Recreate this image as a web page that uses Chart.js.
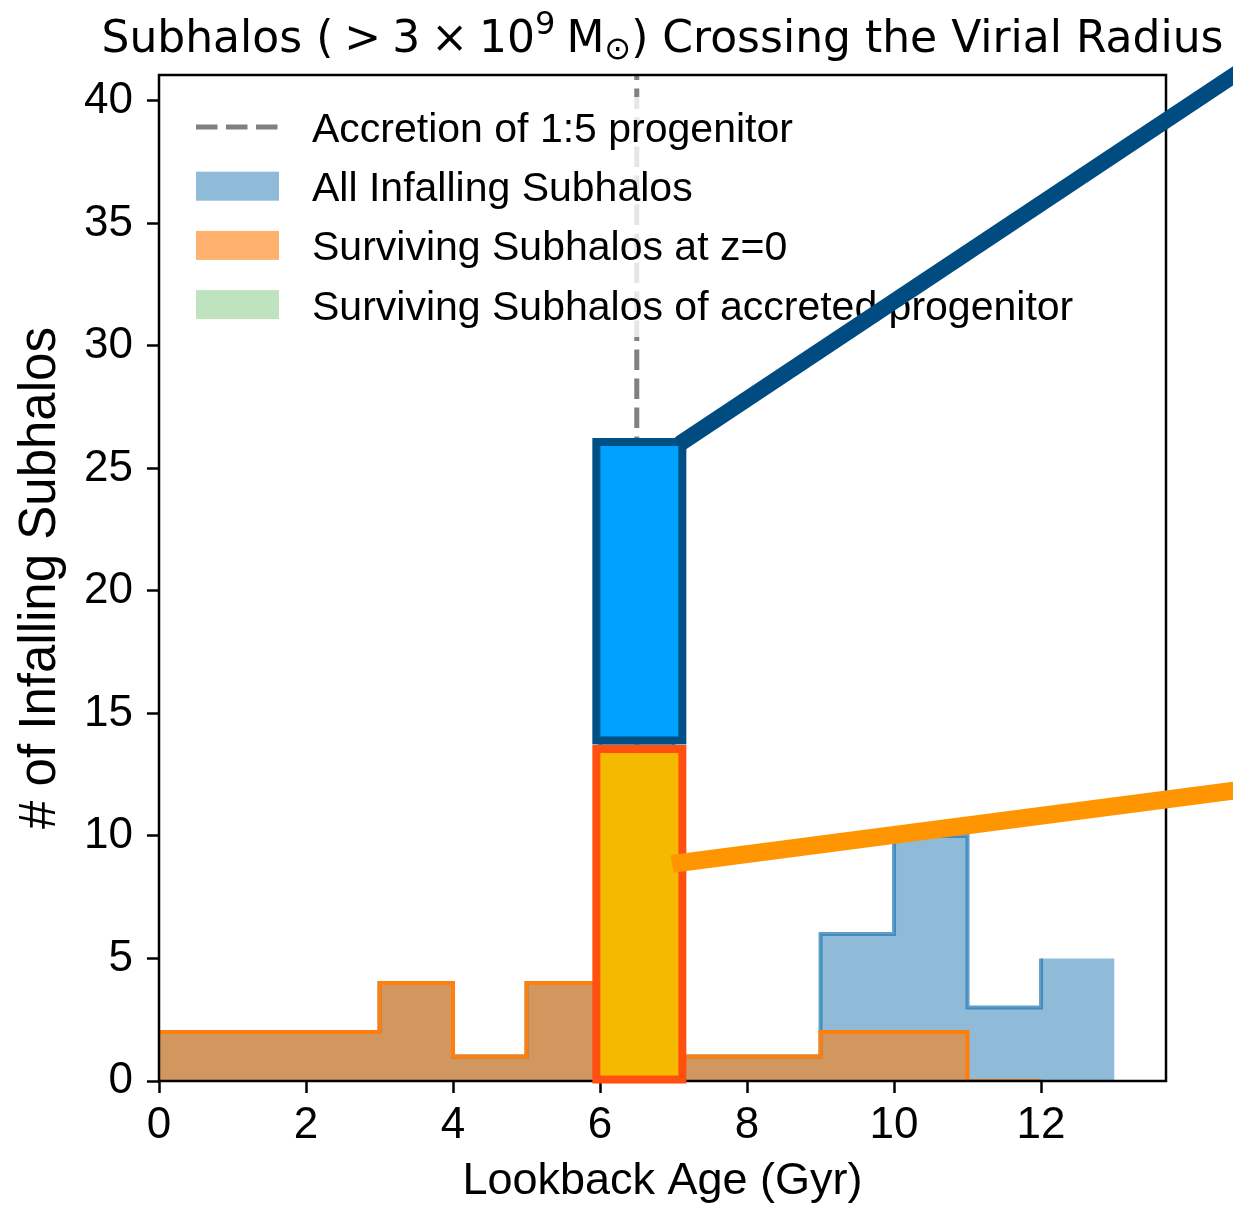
<!DOCTYPE html>
<html>
<head>
<meta charset="utf-8">
<script src="https://cdn.jsdelivr.net/npm/chart.js@4.4.0/dist/chart.umd.min.js"></script>
<style>
  html, body { margin: 0; padding: 0; background: #fff; }
  canvas { display: block; }
</style>
</head>
<body>
<canvas id="histChart" width="1233" height="1205"></canvas>
<script>
// 1 Gyr bins of lookback age, counts
const binEdges = [0, 1, 2, 3, 4, 5, 6, 7, 8, 9, 10, 11, 12, 13];
const allInfalling = [2, 2, 2, 4, 1, 4, 26, 1, 1, 6, 10, 3, 5];
const survivingZ0 = [2, 2, 2, 4, 1, 4, 13, 1, 1, 2, 2, 0, 0];
const survivingAccreted = [0, 0, 0, 0, 0, 0, 9, 0, 0, 0, 0, 0, 0];
const accretionAge = 6.5;

const xTickValues = [0, 2, 4, 6, 8, 10, 12];
const yTickValues = [0, 5, 10, 15, 20, 25, 30, 35, 40];
const xMax = 13.7;
const yMax = 41.06;

// highlight boxes and connector lines drawn over the 6-7 Gyr bin (data units)
const highlightX = [5.95, 7.12];
const highlightAllY = [13.9, 26.08];
const highlightSurvY = [0.06, 13.55];
const allConnector = [[7.08, 26.0], [14.9, 41.6]];
const survConnector = [[6.98, 8.86], [14.8, 11.92]];

const FONT = '"Liberation Sans", Arial, Helvetica, sans-serif';
const TITLE_FONT = '"DejaVu Sans", sans-serif';
const GAP = '\u2005';

function stepPoints(counts, closeLast) {
  const pts = counts.map((c, i) => ({ x: binEdges[i], y: c }));
  if (closeLast) pts.push({ x: binEdges[counts.length], y: counts[counts.length - 1] });
  return pts;
}

const spinePlugin = {
  id: 'spines',
  afterDatasetsDraw(chart) {
    const { ctx, chartArea: a } = chart;
    ctx.save();
    ctx.strokeStyle = '#000';
    ctx.lineWidth = 2.5;
    ctx.strokeRect(a.left, a.top, a.right - a.left, a.bottom - a.top);
    ctx.restore();
  }
};

const legendPlugin = {
  id: 'innerLegend',
  afterDatasetsDraw(chart) {
    const { ctx, chartArea: a } = chart;
    const ds = chart.data.datasets;
    const items = [
      { kind: 'dash', d: ds[6] },
      { kind: 'patch', d: ds[0] },
      { kind: 'patch', d: ds[1] },
      { kind: 'patch', d: ds[2] }
    ];
    const x0 = a.left + 37;
    const rowY = a.top + 52;
    const rowGap = 59.2;
    ctx.save();
    // translucent frame
    ctx.fillStyle = 'rgba(255,255,255,0.8)';
    ctx.beginPath();
    ctx.roundRect(a.left + 21, a.top + 22, 910, 240, 6);
    ctx.fill();
    ctx.font = '41px ' + FONT;
    ctx.textBaseline = 'alphabetic';
    ctx.textAlign = 'left';
    items.forEach((it, i) => {
      const cy = rowY + i * rowGap;
      if (it.kind === 'dash') {
        ctx.strokeStyle = it.d.borderColor;
        ctx.lineWidth = it.d.borderWidth;
        ctx.setLineDash([21.5, 8.5]);
        ctx.beginPath();
        ctx.moveTo(x0, cy);
        ctx.lineTo(x0 + 83, cy);
        ctx.stroke();
        ctx.setLineDash([]);
      } else {
        ctx.fillStyle = it.d.backgroundColor;
        ctx.fillRect(x0, cy - 14.5, 83, 29);
      }
      ctx.fillStyle = '#000';
      ctx.fillText(it.d.label, x0 + 116, cy + 15);
    });
    ctx.restore();
  }
};

const highlightPlugin = {
  id: 'highlight',
  afterDraw(chart) {
    const { ctx, scales: { x, y } } = chart;
    ctx.save();
    const box = (yr, fill, stroke) => {
      const l = x.getPixelForValue(highlightX[0]);
      const r = x.getPixelForValue(highlightX[1]);
      const t = y.getPixelForValue(yr[1]);
      const b = y.getPixelForValue(yr[0]);
      ctx.fillStyle = fill;
      ctx.fillRect(l, t, r - l, b - t);
      ctx.lineWidth = 8;
      ctx.strokeStyle = stroke;
      ctx.strokeRect(l, t, r - l, b - t);
    };
    box(highlightAllY, '#00a2ff', '#004f85');
    box(highlightSurvY, '#f5b900', '#ff5010');
    const seg = (p, color, w) => {
      ctx.strokeStyle = color;
      ctx.lineWidth = w;
      ctx.lineCap = 'butt';
      ctx.beginPath();
      ctx.moveTo(x.getPixelForValue(p[0][0]), y.getPixelForValue(p[0][1]));
      ctx.lineTo(x.getPixelForValue(p[1][0]), y.getPixelForValue(p[1][1]));
      ctx.stroke();
    };
    seg(allConnector, '#004b80', 16);
    seg(survConnector, '#ff9500', 18);
    ctx.restore();
  }
};

const titlePlugin = {
  id: 'mathTitle',
  afterDraw(chart) {
    const { ctx, chartArea: a } = chart;
    const big = '44px ' + TITLE_FONT;
    const small = '32px ' + TITLE_FONT;
    const parts = [
      { t: 'Subhalos (' + GAP + '>' + GAP + '3' + GAP + '×' + GAP + '10', f: big, dy: 0 },
      { t: '9', f: small, dy: -18 },
      { t: GAP + 'M', f: big, dy: 0 },
      { t: '⊙', f: small, dy: 7 },
      { t: ') Crossing the Virial Radius', f: big, dy: 0 }
    ];
    ctx.save();
    ctx.fillStyle = '#000';
    ctx.textBaseline = 'alphabetic';
    ctx.textAlign = 'left';
    let total = 0;
    parts.forEach(p => { ctx.font = p.f; p.w = ctx.measureText(p.t).width; total += p.w; });
    let cx = (a.left + a.right) / 2 - total / 2;
    const base = 52;
    parts.forEach(p => {
      ctx.font = p.f;
      ctx.fillText(p.t, cx, base + p.dy);
      cx += p.w;
    });
    ctx.restore();
  }
};

const ctx = document.getElementById('histChart').getContext('2d');
new Chart(ctx, {
  type: 'line',
  data: {
    datasets: [
      {
        label: 'All Infalling Subhalos',
        data: stepPoints(allInfalling, true),
        stepped: true, fill: 'origin',
        backgroundColor: 'rgba(31,119,180,0.5)',
        borderColor: 'rgba(0,0,0,0)', borderWidth: 0,
        pointRadius: 0, order: 9
      },
      {
        label: 'Surviving Subhalos at z=0',
        data: stepPoints(survivingZ0, true),
        stepped: true, fill: 'origin',
        backgroundColor: 'rgba(255,127,14,0.6)',
        borderColor: 'rgba(0,0,0,0)', borderWidth: 0,
        pointRadius: 0, order: 8
      },
      {
        label: 'Surviving Subhalos of accreted progenitor',
        data: stepPoints(survivingAccreted, true),
        stepped: true, fill: 'origin',
        backgroundColor: 'rgba(44,160,44,0.3)',
        borderColor: 'rgba(0,0,0,0)', borderWidth: 0,
        pointRadius: 0, order: 7
      },
      {
        label: 'all outline',
        data: stepPoints(allInfalling, false),
        stepped: true, fill: false,
        borderColor: 'rgba(31,119,180,0.7)', borderWidth: 4,
        pointRadius: 0, order: 6
      },
      {
        label: 'surviving outline',
        data: stepPoints(survivingZ0, false),
        stepped: true, fill: false,
        borderColor: '#ff7f0e', borderWidth: 4,
        pointRadius: 0, order: 5
      },
      {
        label: 'accreted outline',
        data: stepPoints(survivingAccreted, false),
        stepped: true, fill: false,
        borderColor: 'rgba(44,160,44,0.8)', borderWidth: 2,
        pointRadius: 0, order: 4
      },
      {
        label: 'Accretion of 1:5 progenitor',
        data: [{ x: accretionAge, y: 0 }, { x: accretionAge, y: yMax }],
        fill: false,
        borderColor: '#808080', borderWidth: 5,
        borderDash: [20.5, 8.5], borderDashOffset: 14,
        pointRadius: 0, order: 3
      }
    ]
  },
  options: {
    responsive: false,
    animation: false,
    devicePixelRatio: 1,
    layout: { padding: { left: 0, right: 67, top: 75, bottom: 0 } },
    plugins: {
      legend: { display: false },
      tooltip: { enabled: false },
      title: { display: false }
    },
    scales: {
      x: {
        type: 'linear',
        min: 0,
        max: xMax,
        afterBuildTicks: (s) => { s.ticks = xTickValues.map(v => ({ value: v })); },
        afterFit: (s) => { s.height = 124; },
        ticks: {
          font: { family: FONT, size: 44, lineHeight: 1.2 },
          color: '#000', padding: 6, maxRotation: 0, autoSkip: false
        },
        grid: { drawOnChartArea: false, drawTicks: true, tickLength: 12, tickWidth: 2.5, tickColor: '#000' },
        border: { display: false },
        title: {
          display: true, text: 'Lookback Age (Gyr)',
          font: { family: FONT, size: 45, lineHeight: 1 },
          color: '#000', padding: { top: 0, bottom: 1 }
        }
      },
      y: {
        type: 'linear',
        min: 0,
        max: yMax,
        afterBuildTicks: (s) => { s.ticks = yTickValues.map(v => ({ value: v })); },
        afterFit: (s) => { s.width = 159; },
        ticks: {
          font: { family: FONT, size: 44, lineHeight: 1.2 },
          color: '#000', padding: 14, autoSkip: false
        },
        grid: { drawOnChartArea: false, drawTicks: true, tickLength: 12, tickWidth: 2.5, tickColor: '#000' },
        border: { display: false },
        title: {
          display: true, text: '# of Infalling Subhalos',
          font: { family: FONT, size: 51, lineHeight: 1 },
          color: '#000', padding: { top: 15, bottom: 0 }
        }
      }
    }
  },
  plugins: [spinePlugin, legendPlugin, highlightPlugin, titlePlugin]
});
</script>
</body>
</html>
